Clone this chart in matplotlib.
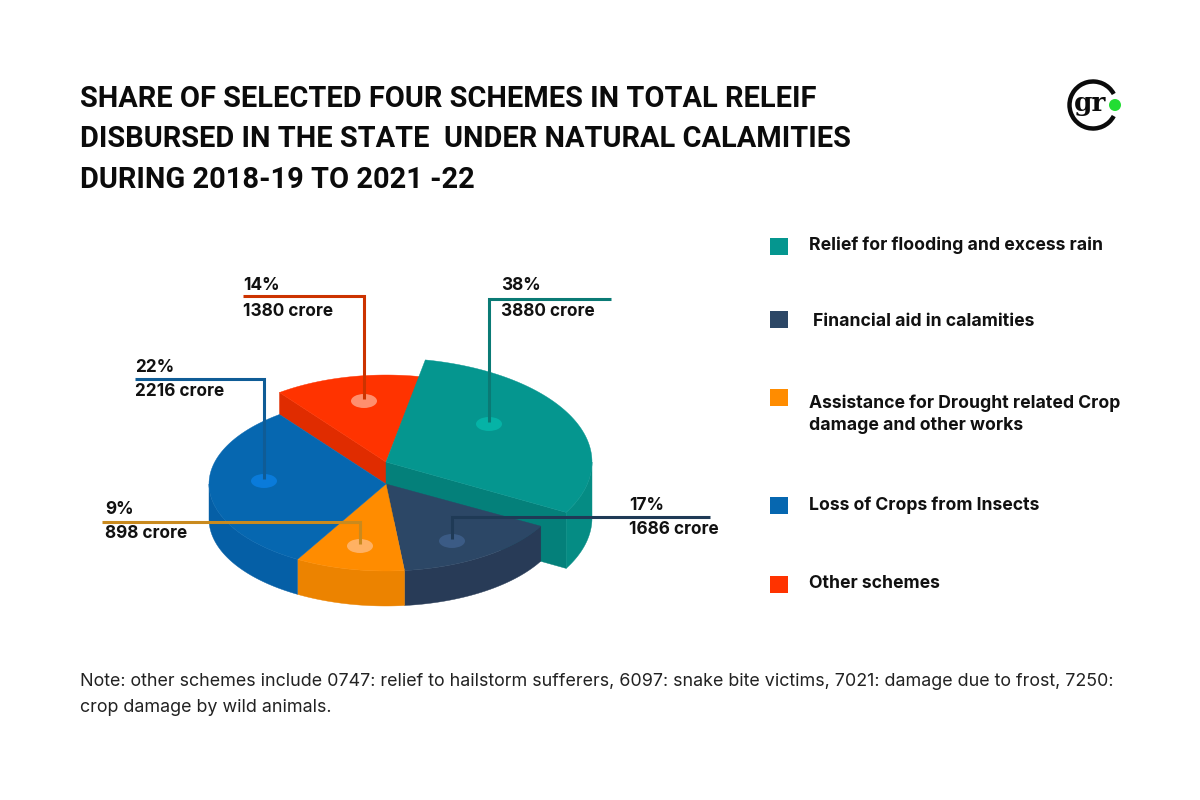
import numpy as np
import matplotlib
matplotlib.use('Agg')
import matplotlib.pyplot as plt
from matplotlib.patches import Polygon, Ellipse, Rectangle, Arc, Circle

plt.rcParams['font.family'] = ['Inter', 'DejaVu Sans']

title_lines = ["SHARE OF SELECTED FOUR SCHEMES IN TOTAL RELEIF",
               "DISBURSED IN THE STATE  UNDER NATURAL CALAMITIES",
               "DURING 2018-19 TO 2021 -22"]
note_lines = ["Note: other schemes include 0747: relief to hailstorm sufferers, 6097: snake bite victims, 7021: damage due to frost, 7250:",
              "crop damage by wild animals."]

# order is clockwise from the teal slice
schemes = ["Relief for flooding and excess rain", "Financial aid in calamities",
           "Assistance for Drought related Crop\ndamage and other works",
           "Loss of Crops from Insects", "Other schemes"]
shares = [38, 17, 9, 22, 14]
crores = [3880, 1686, 898, 2216, 1380]
# the artwork is not to scale, these are the sweeps as drawn (degrees)
drawn_sweep = [108, 55, 36, 113, 48]

top_col = ["#05968F", "#2C4766", "#FF8C00", "#0667B0", "#FF3300"]
side_col = ["#058C84", "#283B57", "#EC8300", "#055FA6", "#E02C00"]
cut_col = ["#04807A", "#283B57", "#EC8300", "#055CA0", "#E02C00"]
dot_col = ["#05B3A6", "#3B5B85", "#FFB163", "#0A7BDA", "#FF8F6E"]
line_col = ["#0A7A75", "#1F3A56", "#C98A1E", "#0F5C96", "#CC3300"]

CX, CY = 386, 484
RX, RY = 177, 87
START = 79

fig = plt.figure(figsize=(12, 8), dpi=100)
ax = fig.add_axes([0, 0, 1, 1])
ax.set_xlim(0, 1200)
ax.set_ylim(800, 0)
ax.axis('off')


def arc_pts(a0, a1, cy, rx=RX, ry=RY):
    t = np.radians(np.linspace(a0, a1, 80))
    return np.column_stack([CX + rx * np.cos(t), cy - ry * np.sin(t)])


def top_face(a0, a1, cy, color, rx=RX, ry=RY, z=2):
    pts = np.vstack([[CX, cy], arc_pts(a0, a1, cy, rx, ry)])
    ax.add_patch(Polygon(pts, closed=True, fc=color, ec=color, lw=0.3, zorder=z))


def outer_wall(a0, a1, cy, depth, color, rx=RX, ry=RY, z=2):
    pts = arc_pts(a0, a1, cy, rx, ry)
    pts = np.vstack([pts, pts[::-1] + [0, depth]])
    ax.add_patch(Polygon(pts, closed=True, fc=color, ec=color, lw=0.3, zorder=z))


def cut_wall(angle, cy, depth, color, rx=RX, ry=RY, z=2):
    end = arc_pts(angle, angle, cy, rx, ry)[0]
    pts = [[CX, cy], end, end + [0, depth], [CX, cy + depth]]
    ax.add_patch(Polygon(pts, closed=True, fc=color, ec=color, lw=0.3, zorder=z))


edges = START - np.cumsum([0] + drawn_sweep)

# red slice sits on a raised level, behind everything else
a1, a0 = edges[5] , edges[4]
cut_wall(a0, CY - 22, 22, cut_col[4], z=1)
top_face(a0, a1, CY - 22, top_col[4], z=1)

# teal slice is raised and pulled out
T_RX, T_RY = 206, 104
cut_wall(edges[1], CY - 22, 56, cut_col[0], T_RX, T_RY, z=2)
outer_wall(edges[1], 0, CY - 22, 56, side_col[0], T_RX, T_RY, z=2)
top_face(edges[0], edges[1], CY - 22, top_col[0], T_RX, T_RY, z=3)

# navy, orange, blue on the base level
for i in [1, 2, 3]:
    a0, a1 = edges[i], edges[i + 1]
    wall_end = max(a1, -180)
    outer_wall(a0, wall_end, CY, 35, side_col[i], z=4)
    top_face(a0, a1, CY, top_col[i], z=5)

# dots and leader lines
dot_x = [489, 452, 360, 264, 364]
dot_y = [424, 541, 546, 481, 401]
elbow_y = [299, 517, 522, 379, 296]
end_x = [611, 710, 102, 135, 243]
for i in range(5):
    ax.add_patch(Ellipse((dot_x[i], dot_y[i]), 26, 14, fc=dot_col[i], ec='none', zorder=6))
    ax.plot([dot_x[i], dot_x[i], end_x[i]], [dot_y[i] - 2, elbow_y[i], elbow_y[i]],
            color=line_col[i], lw=2.2, solid_joinstyle='miter', solid_capstyle='butt', zorder=7)

# callout text
pct_xy = [(501, 285), (629, 504), (105, 508), (135, 366), (243, 285)]
val_xy = [(501, 310), (629, 529), (105, 533), (135, 391), (243, 310)]
for i in range(5):
    ax.text(pct_xy[i][0], pct_xy[i][1] + 1, "%d%%" % shares[i], fontsize=12.4, fontweight='bold',
            color='#111111', va='center', ha='left', zorder=8)
    ax.text(val_xy[i][0], val_xy[i][1] + 1, "%d crore" % crores[i], fontsize=12.4, fontweight='bold',
            color='#111111', va='center', ha='left', zorder=8)

# title and note
title_y = [99, 139, 180]
for s, y in zip(title_lines, title_y):
    ax.text(80, y, s, fontsize=20.85, family=['Roboto', 'DejaVu Sans'], fontweight='bold',
            color='#0B0B0B', va='center', ha='left')
for s, y in zip(note_lines, [681, 707]):
    ax.text(80, y, s, fontsize=12.9, color='#222222', va='center', ha='left')

# legend
sq_y = [246, 319, 397, 505, 584]
txt_x = [809, 813, 809, 809, 809]
txt_y = [245, 322, 414, 505, 583]
for i in range(5):
    ax.add_patch(Rectangle((770, sq_y[i] - 8.5), 18, 17, fc=top_col[i], ec='none'))
    ax.text(txt_x[i], txt_y[i], schemes[i], fontsize=12.7, fontweight='bold', color='#111111',
            va='center', ha='left', linespacing=1.35)

# logo
ax.add_patch(Arc((1093, 105), 47, 47, theta1=28, theta2=332, lw=3.2, color='#0B0B0B'))
ax.text(1090, 103, "gr", fontsize=19, family='DejaVu Serif', fontweight='bold', color='#0B0B0B',
        va='center', ha='center')
ax.add_patch(Circle((1115, 105), 6, fc='#22DD33', ec='none', zorder=5))

plt.savefig("out.png", dpi=100)
